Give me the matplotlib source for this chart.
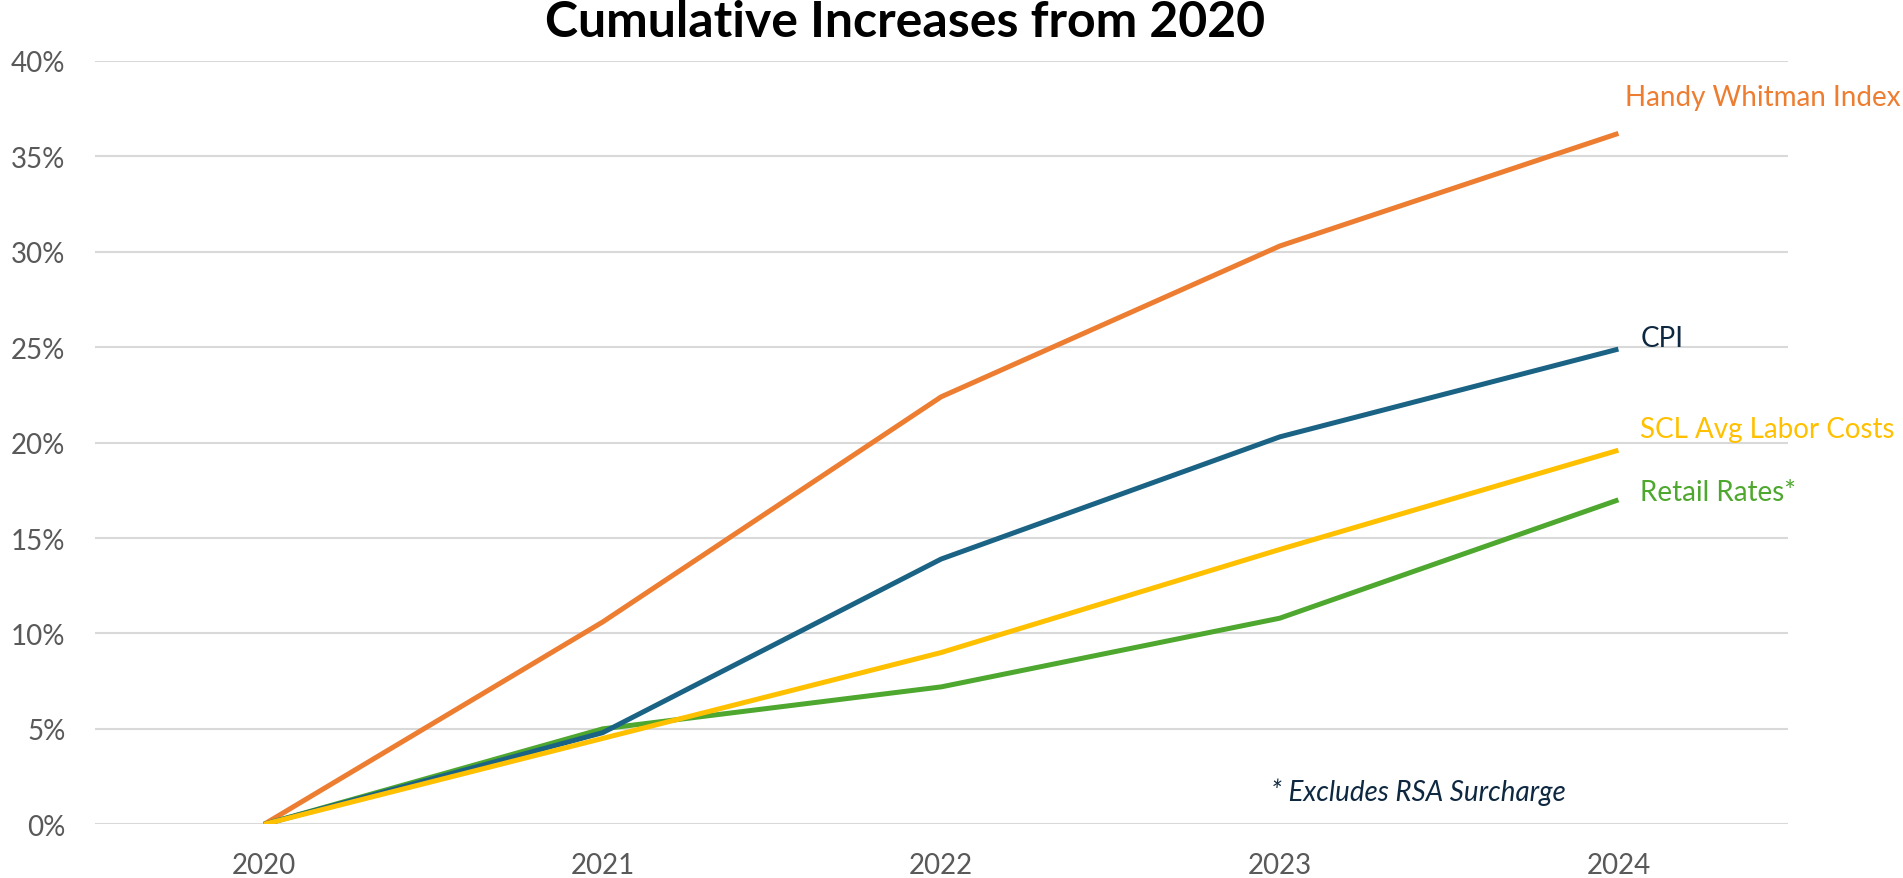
import matplotlib
matplotlib.use("Agg")
import matplotlib.pyplot as plt
from matplotlib.ticker import PercentFormatter

plt.rcParams['font.family'] = ['Lato', 'DejaVu Sans']

# Data (cumulative % increase from 2020)
years = [2020, 2021, 2022, 2023, 2024]
handy_whitman = [0.0, 10.6, 22.4, 30.3, 36.2]
cpi = [0.0, 4.8, 13.9, 20.3, 24.9]
scl_labor = [0.0, 4.5, 9.0, 14.4, 19.6]
retail_rates = [0.0, 5.0, 7.2, 10.8, 17.0]

series_names = ["Handy Whitman Index", "CPI", "SCL Avg Labor Costs", "Retail Rates*"]
line_colors = ["#ED7D31", "#1B6385", "#FFC000", "#4EA72E"]
label_colors = ["#ED7D31", "#0E2841", "#FFC000", "#4EA72E"]
yticks = [0, 5, 10, 15, 20, 25, 30, 35, 40]

fig = plt.figure(figsize=(19.03, 8.79), dpi=100)
ax = fig.add_axes([0.0498, 0.0611, 0.8896, 0.8685])

all_series = [handy_whitman, cpi, scl_labor, retail_rates]
zorders = [3, 4, 5, 3.5]
for vals, col, z in zip(all_series, line_colors, zorders):
    ax.plot(years, vals, color=col, linewidth=3.6, zorder=z, solid_capstyle='butt')

# end labels (placed just right of the last point)
label_dx = [0.02, 0.065, 0.065, 0.065]
label_dy = [1.9, 0.6, 1.1, 0.4]
for vals, name, col, dx, dy in zip(all_series, series_names, label_colors, label_dx, label_dy):
    ax.text(years[-1] + dx, vals[-1] + dy, name, color=col, fontsize=20,
            ha='left', va='center', clip_on=False)

ax.text(2023.41, 1.75, "* Excludes RSA Surcharge", color="#0E2841",
        fontsize=20, style='italic', ha='center', va='center')

ax.set_xlim(2019.5, 2024.5)
ax.set_ylim(0, 40)
ax.set_xticks(years)
ax.set_yticks(yticks)
ax.yaxis.set_major_formatter(PercentFormatter(decimals=0))
ax.tick_params(length=0, labelsize=20, labelcolor="#595959")
ax.tick_params(axis='y', pad=21)
ax.tick_params(axis='x', pad=20)
ax.grid(axis='y', color="#D9D9D9", linewidth=1.5)
ax.set_axisbelow(True)
for s in ax.spines.values():
    s.set_visible(False)

fig.text(0.4756, 0.974, "Cumulative Increases from 2020", fontsize=36,
         fontweight='bold', ha='center', va='center')

fig.savefig("out.png", dpi=100)
